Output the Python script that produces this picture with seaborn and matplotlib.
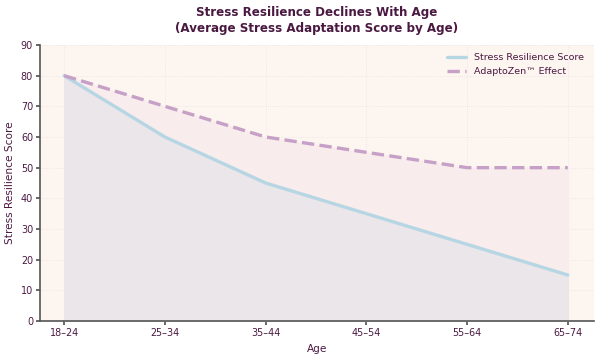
import matplotlib
matplotlib.use("Agg")
import matplotlib.pyplot as plt
import seaborn as sns
import pandas as pd
import numpy as np

ages = ["18–24", "25–34", "35–44", "45–54", "55–64", "65–74"]
resilience = [80, 60, 45, 35, 25, 15]
adaptozen = [80, 70, 60, 55, 50, 50]

sns.set_theme(style="whitegrid")
plt.rcParams['font.family'] = ['DejaVu Sans']

text_c = "#4a1942"
fig = plt.figure(figsize=(6, 3.57), dpi=100)
ax = fig.add_axes([0.0667, 0.1008, 0.9233, 0.7732])
ax.set_facecolor("#fdf5f0")

df = pd.DataFrame({"Age": ages, "Stress Resilience Score": resilience, "AdaptoZen™ Effect": adaptozen})
x = np.arange(len(ages))
ax.fill_between(x, 0, resilience, color="#ebe6e9", zorder=1)
ax.fill_between(x, resilience, adaptozen, color="#f8ecec", zorder=1)
sns.lineplot(x=x, y=df["Stress Resilience Score"], ax=ax, color="#b7d6e4", linewidth=2.4,
             label="Stress Resilience Score", zorder=3)
sns.lineplot(x=x, y=df["AdaptoZen™ Effect"], ax=ax, color="#c6a0c6", linewidth=2.4,
             linestyle="--", label="AdaptoZen™ Effect", zorder=3)

ax.set_xticks(x)
ax.set_xticklabels(ages)
ax.set_ylim(0, 90)
ax.set_yticks(range(0, 91, 10))
ax.set_xlim(-0.24, 5.26)
ax.grid(True, color="#ebe3e3", linewidth=0.6, linestyle=":")
for s in ["top", "right"]:
    ax.spines[s].set_visible(False)
for s in ["left", "bottom"]:
    ax.spines[s].set_color("#555555")
    ax.spines[s].set_linewidth(1.2)
ax.tick_params(axis="both", colors=text_c, labelsize=6.9, length=3, direction="out",
               left=True, bottom=True, pad=2)
ax.tick_params(axis="both", color="#555555")
ax.set_xlabel("Age", color=text_c, fontsize=7.6, labelpad=4)
ax.set_ylabel("Stress Resilience Score", color=text_c, fontsize=7.6, labelpad=4)
fig.suptitle("Stress Resilience Declines With Age\n(Average Stress Adaptation Score by Age)",
             color=text_c, fontsize=8.6, fontweight="bold", x=0.528, y=0.982, linespacing=1.22)
leg = ax.legend(loc="upper right", frameon=False, fontsize=6.8, labelcolor=text_c,
                bbox_to_anchor=(0.997, 1.0))
fig.savefig("out.png", dpi=100, facecolor="white")
